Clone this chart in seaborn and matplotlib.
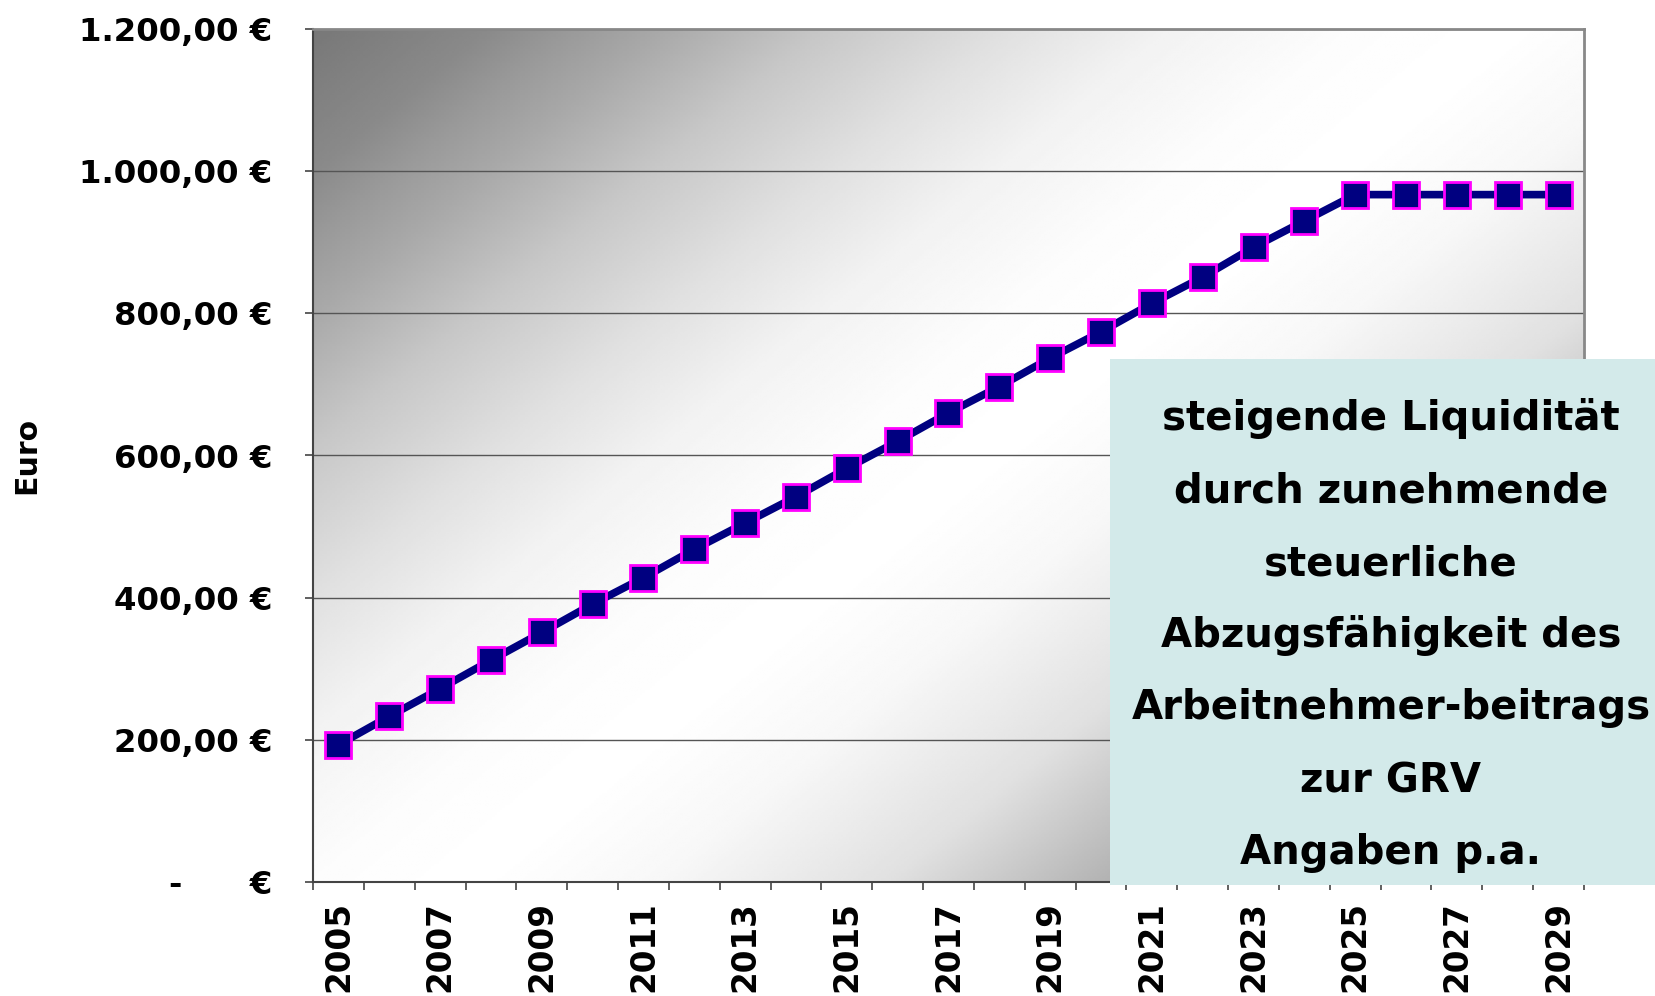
import matplotlib
matplotlib.use("Agg")
import matplotlib.pyplot as plt
from matplotlib.patches import Rectangle
from matplotlib.ticker import FixedLocator, FuncFormatter
import pandas as pd
import seaborn as sns
import numpy as np

# data
years = [str(y) for y in range(2005, 2030)]
values = [193, 233, 272, 312, 351, 391, 428, 468, 505, 542, 582, 620, 660,
          697, 737, 774, 814, 851, 893, 930, 967, 967, 967, 967, 967]
y_ticks = [0, 200, 400, 600, 800, 1000, 1200]
box_lines = ["steigende Liquidität", "durch zunehmende", "steuerliche",
             "Abzugsfähigkeit des", "Arbeitnehmer-beitrags", "zur GRV",
             "Angaben p.a."]

df = pd.DataFrame({"year": years, "pos": np.arange(len(years)), "euro": values})

sns.set_style("white")
plt.rcParams["font.family"] = ["DejaVu Sans"]
plt.rcParams["font.weight"] = "bold"
plt.rcParams["text.color"] = "black"
plt.rcParams["axes.labelcolor"] = "black"
plt.rcParams["xtick.color"] = "black"
plt.rcParams["ytick.color"] = "black"

fig = plt.figure(figsize=(16.56, 9.96), dpi=100)
ax = fig.add_axes([313 / 1656, 1 - 882 / 996, 1271 / 1656, 853 / 996])

# diagonal grey gradient behind the plot area (dark top-left, white middle,
# grey again towards bottom-right)
u = np.linspace(0, 1, 500)
v = np.linspace(0, 1, 350)
uu, vv = np.meshgrid(u, v)
s = 0.55 * uu + 0.45 * vv
grad = np.interp(s,
                 [0, 0.075, 0.11, 0.15, 0.22, 0.3, 0.37, 0.45, 0.52, 0.6, 0.7, 0.8, 1.0],
                 [0.47, 0.54, 0.6, 0.66, 0.78, 0.88, 0.95, 0.99, 1.0, 0.97, 0.88, 0.69, 0.45])
ax.imshow(grad, extent=(-0.5, len(years) - 0.5, 0, 1200), aspect="auto",
          cmap="gray", vmin=0, vmax=1, zorder=0, interpolation="bilinear")

sns.lineplot(data=df, x="pos", y="euro", ax=ax, color="#000080", linewidth=5.5,
             marker="s", markersize=19, markerfacecolor="#000080",
             markeredgecolor="#ff00ff", markeredgewidth=2.0, zorder=3)

ax.set_xlim(-0.5, len(years) - 0.5)
ax.set_ylim(0, 1200)

# y axis
def euro_fmt(v, pos):
    if v == 0:
        return "-      €"
    s = f"{v:,.2f}".replace(",", "X").replace(".", ",").replace("X", ".")
    return s + " €"

ax.set_yticks(y_ticks)
ax.yaxis.set_major_formatter(FuncFormatter(euro_fmt))
ax.tick_params(axis="y", left=True, direction="out", length=6, width=1.2,
               color="#444444", pad=23, labelsize=23.3)
ax.yaxis.grid(True, color="#555555", linewidth=1)
ax.set_axisbelow(True)

# x axis: labels on every other category, ticks between categories
ax.set_xticks(df["pos"][::2])
ax.set_xticklabels(df["year"][::2], rotation=90, fontsize=23.5, fontweight="bold")
ax.xaxis.set_minor_locator(FixedLocator(np.arange(-0.5, len(years), 1)))
ax.tick_params(axis="x", which="major", bottom=True, length=0, pad=14)
ax.tick_params(axis="x", which="minor", bottom=True, direction="out", length=6,
               width=1.2, color="#444444")

ax.set_xlabel("")
ax.set_ylabel("Euro", fontsize=21.5, fontweight="bold")
ax.yaxis.set_label_coords(-0.214, 0.5)

for side in ["left", "bottom"]:
    ax.spines[side].set_color("#444444")
    ax.spines[side].set_linewidth(1.5)
for side in ["top", "right"]:
    ax.spines[side].set_color("#888888")
    ax.spines[side].set_linewidth(2)

# annotation box
fig.add_artist(Rectangle((1110 / 1656, 1 - 885 / 996), 1 - 1110 / 1656,
                         (885 - 359) / 996, transform=fig.transFigure,
                         facecolor="#d3eaea", edgecolor="none", zorder=5))
baselines = [430, 502.5, 575, 647, 719.5, 792, 864]
for line, b in zip(box_lines, baselines):
    fig.text(1391 / 1656, 1 - b / 996, line, ha="center", va="baseline",
             fontsize=29, fontweight="bold", zorder=6)

fig.savefig("out.png", dpi=100)
